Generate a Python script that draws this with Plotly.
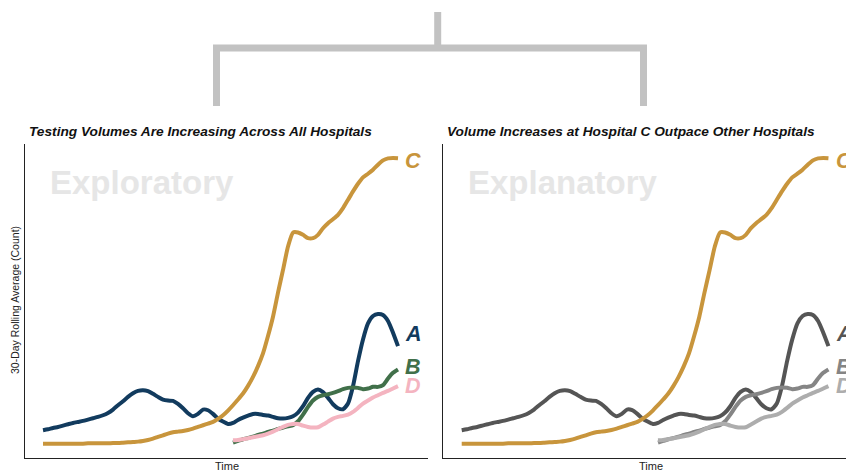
import plotly.graph_objects as go

W, H = 846, 473

# time index (arbitrary day index)
time = list(range(72))

hosp_a = [8.3, 8.6, 9.0, 9.3, 9.7, 10.1, 10.5, 10.8, 11.1, 11.5, 11.9, 12.3, 12.8, 13.5, 14.5, 15.8,
          17.0, 18.3, 19.4, 20.1, 20.3, 20.0, 19.2, 18.3, 17.5, 17.2, 17.1, 16.2, 14.9, 13.4, 12.5, 13.2,
          14.5, 14.3, 13.2, 11.8, 10.9, 10.2, 10.5, 11.4, 12.1, 12.7, 13.2, 13.2, 12.9, 12.7, 12.3, 11.9,
          11.8, 12.0, 12.5, 13.6, 15.5, 18.0, 19.8, 20.5, 19.7, 18.0, 16.1, 14.9, 14.6, 16.3, 21.5, 29.0,
          35.5, 40.3, 42.5, 43.1, 42.8, 41.0, 37.5, 33.5]

hosp_c = [4.3, 4.3, 4.3, 4.3, 4.3, 4.3, 4.3, 4.3, 4.3, 4.4, 4.4, 4.4, 4.4, 4.4, 4.5, 4.5,
          4.6, 4.7, 4.8, 4.9, 5.1, 5.4, 5.8, 6.3, 6.8, 7.3, 7.7, 7.9, 8.1, 8.4, 8.8, 9.3,
          9.8, 10.3, 10.8, 11.7, 12.8, 14.2, 15.8, 17.5, 19.3, 21.6, 24.3, 27.5, 31.3, 36.5,
          42.3, 49.5, 56.3, 63.3, 67.5, 67.5, 66.8, 65.8, 65.8, 66.8, 68.8, 70.3, 71.5, 72.8,
          74.8, 77.3, 79.8, 82.1, 84.0, 85.1, 86.3, 87.8, 89.1, 89.7, 89.8, 89.7]

hosp_b = [None] * 38 + [4.6, 5.1, 5.6, 6.0, 6.4, 6.9, 7.3, 7.8, 8.2, 8.7, 9.1, 9.5, 9.8, 11.0, 13.0,
                        15.3, 17.2, 18.3, 18.8, 19.1, 19.5, 20.0, 20.6, 21.0, 21.1, 21.0, 20.6, 20.8,
                        21.3, 21.3, 21.8, 23.8, 25.5, 26.5]

hosp_d = [None] * 38 + [5.3, 5.4, 5.6, 5.9, 6.2, 6.5, 6.8, 7.3, 7.9, 8.6, 9.3, 9.9, 10.2, 10.2, 9.7,
                        9.3, 9.1, 9.2, 10.0, 10.9, 11.8, 12.3, 12.6, 13.0, 13.8, 15.0, 16.3, 17.2,
                        18.1, 18.8, 19.5, 20.1, 20.8, 21.5]

series_names = ["A", "B", "D", "C"]
series_values = [hosp_a, hosp_b, hosp_d, hosp_c]
end_labels_y = {"C": 88.8, "A": 37.0, "B": 27.1, "D": 21.7}

colors_left = {"A": "#123B5E", "B": "#41704A", "D": "#F4B4C0", "C": "#C8953C"}
colors_right = {"A": "#555555", "B": "#858585", "D": "#ADADAD", "C": "#C8953C"}

titles = ["Testing Volumes Are Increasing Across All Hospitals",
          "Volume Increases at Hospital C Outpace Other Hospitals"]
watermarks = ["Exploratory", "Explanatory"]

FONT = "Liberation Sans, Arial, Helvetica, sans-serif"

fig = go.Figure()

for i, (xa, ya, cols) in enumerate([("x", "y", colors_left), ("x2", "y2", colors_right)]):
    for name, vals in zip(series_names, series_values):
        fig.add_trace(go.Scatter(x=time, y=vals, mode="lines", xaxis=xa, yaxis=ya,
                                 line=dict(color=cols[name], width=4, shape="spline", smoothing=0.6),
                                 showlegend=False, hoverinfo="skip"))
        fig.add_annotation(x=72.0, y=end_labels_y[name], xref=xa, yref=ya, xanchor="left",
                           yanchor="middle", showarrow=False,
                           text="<b><i>%s</i></b>" % name,
                           font=dict(family=FONT, size=21.5, color=cols[name]))

def px(xp):
    return xp / W

def py(yp):
    return 1 - yp / H

ydom = [py(458), py(144)]
axis_common = dict(showgrid=False, zeroline=False, showticklabels=False, ticks="",
                   showline=True, linecolor="#222222", linewidth=1.2)

fig.update_layout(
    width=W, height=H,
    margin=dict(l=0, r=0, t=0, b=0),
    paper_bgcolor="white", plot_bgcolor="white",
    xaxis=dict(domain=[px(25), px(428)], range=[-3.6, 77.0], anchor="y", **axis_common),
    yaxis=dict(domain=ydom, range=[0, 94], anchor="x", **axis_common),
    xaxis2=dict(domain=[px(442.7), 1.0], range=[-3.68, 74.4], anchor="y2", **axis_common),
    yaxis2=dict(domain=ydom, range=[0, 94], anchor="x2", **axis_common),
)

# titles, watermarks, axis labels
title_x = [27, 445]
wm_x = [48, 466]
time_x = [226.5, 651]
for i in range(2):
    fig.add_annotation(x=px(title_x[i]), y=py(131), xref="paper", yref="paper", xanchor="left",
                       yanchor="middle", showarrow=False, text="<b><i>%s</i></b>" % titles[i],
                       font=dict(family=FONT, size=13.7, color="#111111"))
    fig.add_annotation(x=px(wm_x[i]), y=py(182), xref="paper", yref="paper", xanchor="left",
                       yanchor="middle", showarrow=False, text="<b>%s</b>" % watermarks[i],
                       font=dict(family=FONT, size=33, color="#E6E6E6"))
    fig.add_annotation(x=px(time_x[i]), y=py(466), xref="paper", yref="paper", xanchor="center",
                       yanchor="middle", showarrow=False, text="Time",
                       font=dict(family=FONT, size=11, color="#222222"))

fig.add_annotation(x=px(15), y=py(300), xref="paper", yref="paper", xanchor="center",
                   yanchor="middle", showarrow=False, text="30-Day Rolling Average (Count)",
                   textangle=-90, font=dict(family=FONT, size=10.5, color="#222222"))

# bracket
bracket_color = "#C2C2C2"
path = "M %f %f L %f %f L %f %f L %f %f" % (px(216.5), py(106), px(216.5), py(48),
                                            px(643.5), py(48), px(643.5), py(106))
fig.add_shape(type="path", path=path, xref="paper", yref="paper",
              line=dict(color=bracket_color, width=7))
fig.add_shape(type="line", x0=px(437.7), x1=px(437.7), y0=py(12), y1=py(48),
              xref="paper", yref="paper", line=dict(color=bracket_color, width=7))

fig.write_html("out.html", config={"displayModeBar": False},
               post_script="document.body.style.margin='0';document.body.style.overflow='hidden';")
